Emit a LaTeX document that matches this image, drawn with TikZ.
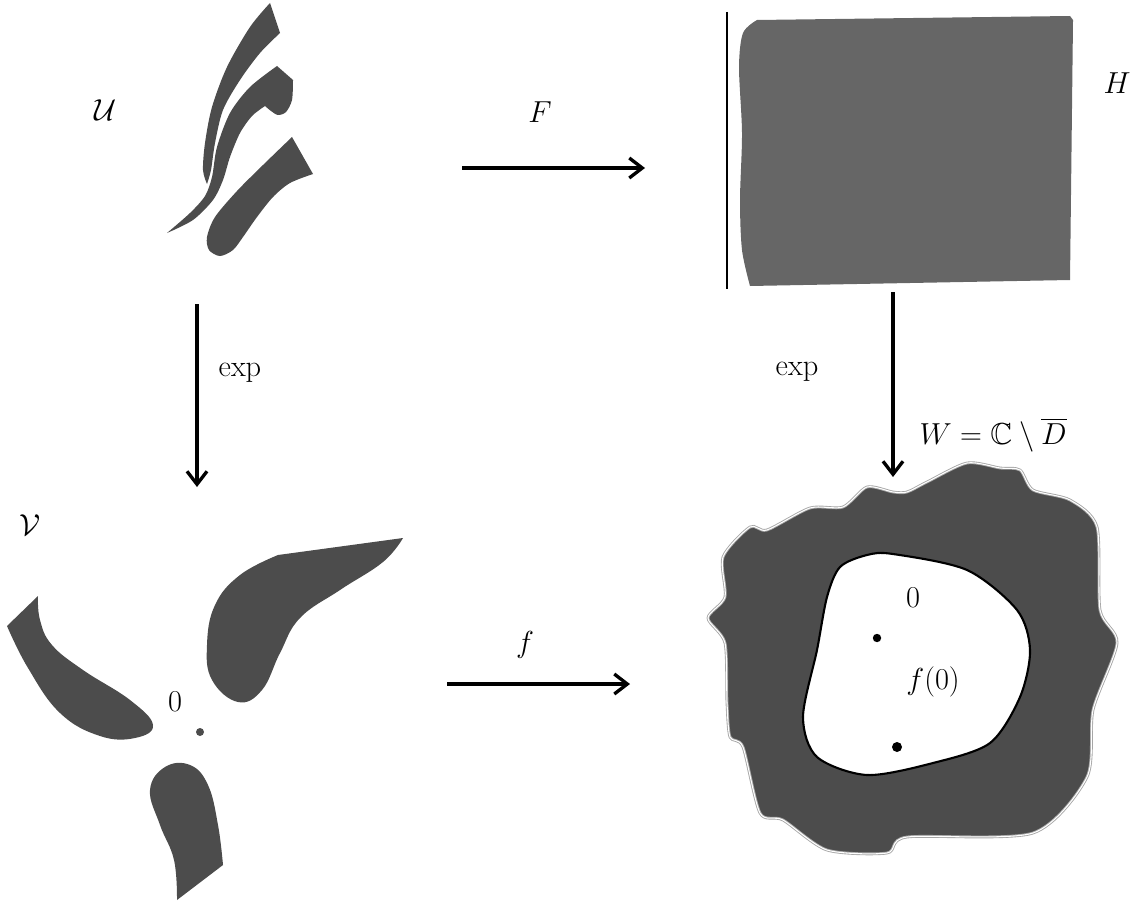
\documentclass[tikz,border=0pt]{standalone}
\usepackage{amsmath,amssymb}
\usepackage{tikz}
\usetikzlibrary{arrows.meta,positioning,calc}
\usepackage{xcolor}
\definecolor{regiongray}{gray}{0.3}
\definecolor{halfgray}{gray}{0.4}

\tikzset{
  region/.style={fill=regiongray},
  mapto/.style={line width=1.9pt, -{Straight Barb[length=2.6mm,width=4mm,line width=1.9pt]}},
  lbl/.style={font=\LARGE, inner sep=0pt}
}

\begin{document}
\begin{tikzpicture}[x=0.02cm, y=-0.02cm]
            \useasboundingbox (0,0) rectangle (1141,902);

            % --- Region U (top left) ---
            \fill[region] (270,3) -- (280,33) -- plot[smooth] coordinates {(280,33) (260,53) (240,80) (223,110) (215,143) (211,170) (207,184)}
                -- plot[smooth] coordinates {(207,184) (203,170) (205,143) (212,107) (227,67) (250,27) (270,3)} -- cycle;
            \fill[region] (277,66) -- (293,80) -- plot[smooth] coordinates {(293,80) (292,100) (286,112) (278,115) (271,111) (265,106)}
                -- plot[smooth] coordinates {(265,106) (252,116) (240,133) (230,157) (223,180) (213,200) (193,220) (167,233)}
                -- plot[smooth] coordinates {(167,233) (190,213) (205,196) (212,177) (217,147) (230,113) (250,87) (277,66)} -- cycle;
            \fill[region] (292,137) -- (313,174) -- plot[smooth] coordinates {(313,174) (290,183) (273,197) (257,217) (243,237) (233,250) (220,256) (209,250) (207,237) (215,217) (237,191) (263,165) (292,137)} -- cycle;
            \node[lbl] (lblU) at (106,110) {$\mathcal{U}$};

            % --- Half plane H (top right) ---
            \draw[line width=1.2pt] (727,12) -- (727,289);
            \fill[halfgray] (757,20) -- (1070,16) -- (1073,20) -- (1070,280) -- (750,286)
                -- plot[smooth] coordinates {(750,286) (742,250) (740,200) (742,133) (739,67) (743,33) (757,20)} -- cycle;
            \node[lbl] (lblH) at (1117,83) {$H$};

            % --- Region V (bottom left) ---
            \fill[region] (403,538) -- (278,555) -- plot[smooth, tension=0.7] coordinates {(278,555) (240,575) (215,605) (207,645) (212,680) (238,702) (262,690) (280,653) (300,618) (340,590) (383,562) (403,538)} -- cycle;
            \fill[region] (38,596) -- (7,626) -- plot[smooth, tension=0.7] coordinates {(7,626) (28,668) (60,713) (100,736) (135,738) (153,725) (130,700) (83,670) (52,645) (40,620) (38,596)} -- cycle;
            \fill[region] (177,900) -- (223,865) -- plot[smooth, tension=0.7] coordinates {(223,865) (218,825) (208,785) (190,765) (165,767) (150,790) (160,825) (174,860) (177,900)} -- cycle;
            \fill[regiongray] (200,732) circle (4);
            \node[lbl] (lblV) at (30,525) {$\mathcal{V}$};
            \node[lbl] (zeroV) at (175,702) {$0$};

            % --- Region W (bottom right) ---
            \draw[region, draw=gray!70, double=white, double distance=0.6pt, line width=0.5pt]
                plot[smooth cycle, tension=0.45] coordinates {(893,492) (867,487) (843,507) (810,508) (767,530) (750,527) (723,557) (725,597) (708,618) (725,643) (727,703) (730,737) (743,747) (760,813) (783,820) (827,850) (887,853) (907,837) (1033,833) (1087,777) (1093,710) (1117,643) (1100,610) (1097,527) (1070,500) (1033,490) (1020,470) (1000,468) (967,463) (927,482) (907,492)};
            \draw[fill=white, line width=1.2pt] plot[smooth cycle] coordinates {(893,554) (967,570) (1017,610) (1030,650) (1020,697) (990,743) (933,763) (867,775) (817,757) (803,717) (817,650) (827,597) (840,567) (867,555)};
            \fill (877,638) circle (4.2);
            \fill (897,747) circle (5);
            \node[lbl] (zeroW) at (913,598) {$0$};
            \node[lbl] (fzero) at (933,682) {$f(0)$};
            \node[lbl] (lblW) at (993,435) {$W=\mathbb{C}\setminus\overline{D}$};

            % --- Maps ---
            \coordinate (F-s) at (462,168);
            \coordinate (F-e) at (645,168);
            \draw[mapto] (F-s) -- (F-e);
            \node[lbl] (lblF) at (540,112) {$F$};

            \coordinate (expL-s) at (197,304);
            \coordinate (expL-e) at (197,487);
            \draw[mapto] (expL-s) -- (expL-e);
            \node[lbl] (lblexpL) at (240,373) {$\exp$};

            \coordinate (expR-s) at (893,292);
            \coordinate (expR-e) at (893,477);
            \draw[mapto] (expR-s) -- (expR-e);
            \node[lbl] (lblexpR) at (797,372) {$\exp$};

            \coordinate (f-s) at (447,684);
            \coordinate (f-e) at (630,684);
            \draw[mapto] (f-s) -- (f-e);
            \node[lbl] (lblf) at (525,645) {$f$};
\end{tikzpicture}
\end{document}
